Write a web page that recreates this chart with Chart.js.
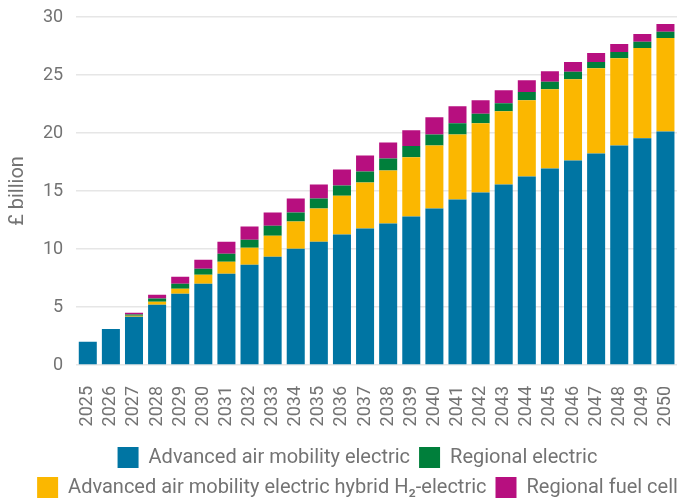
<!DOCTYPE html>
<html>
<head>
<meta charset="utf-8">
<script src="https://cdn.jsdelivr.net/npm/chart.js@4/dist/chart.umd.min.js"></script>
<style>
  body { margin: 0; background: #fff; }
</style>
</head>
<body>
<canvas id="grafico" width="689" height="502"></canvas>
<script>
const years = ["2025","2026","2027","2028","2029","2030","2031","2032","2033","2034","2035","2036","2037",
  "2038","2039","2040","2041","2042","2043","2044","2045","2046","2047","2048","2049","2050"];

const aamElectric = [2.0, 3.1, 4.15, 5.19, 6.14, 7.0, 7.87, 8.65, 9.34, 10.03, 10.63, 11.24, 11.76,
  12.19, 12.8, 13.49, 14.27, 14.87, 15.56, 16.25, 16.95, 17.64, 18.24, 18.93, 19.54, 20.14];
const aamHybrid = [0, 0, 0.1, 0.26, 0.43, 0.78, 1.03, 1.45, 1.81, 2.33, 2.86, 3.36, 3.97,
  4.58, 5.1, 5.44, 5.61, 5.96, 6.31, 6.57, 6.82, 7.0, 7.35, 7.52, 7.78, 8.04];
const regionalElectric = [0, 0, 0.1, 0.28, 0.43, 0.52, 0.7, 0.7, 0.85, 0.78, 0.86, 0.88, 0.96,
  1.04, 0.97, 0.95, 0.95, 0.84, 0.69, 0.72, 0.64, 0.63, 0.54, 0.54, 0.54, 0.55];
const regionalFuelCell = [0, 0, 0.15, 0.32, 0.6, 0.78, 1.03, 1.13, 1.14, 1.21, 1.21, 1.38, 1.38,
  1.38, 1.36, 1.47, 1.47, 1.15, 1.13, 1.01, 0.92, 0.84, 0.76, 0.68, 0.67, 0.66];

const yTicks = [0, 5, 10, 15, 20, 25, 30];

const textColor = "#737373";
const fontFamily = "Roboto, sans-serif";

// orden de la leyenda: fila 1 azul + verde, fila 2 amarillo + magenta
const legendOrder = [0, 2, 1, 3];

const datos = {
  labels: years,
  datasets: [
    { label: "Advanced air mobility electric", data: aamElectric, backgroundColor: "#0075a3" },
    { label: "Advanced air mobility electric hybrid H\u2082-electric", data: aamHybrid, backgroundColor: "#fbb700" },
    { label: "Regional electric", data: regionalElectric, backgroundColor: "#007f3b" },
    { label: "Regional fuel cell", data: regionalFuelCell, backgroundColor: "#b70f7f" }
  ]
};

// la leyenda del original esta centrada un poco a la derecha
const moverLeyenda = {
  id: "moverLeyenda",
  afterLayout: (chart) => {
    chart.legend.left += 16;
    chart.legend.right += 16;
  }
};

const configuracion = {
  type: "bar",
  data: datos,
  plugins: [moverLeyenda],
  options: {
    responsive: false,
    animation: false,
    layout: { padding: { top: 17, right: 12, left: 6, bottom: -6 } },
    datasets: { bar: { barPercentage: 0.78, categoryPercentage: 1 } },
    plugins: {
      tooltip: { enabled: false },
      legend: {
        position: "bottom",
        labels: {
          color: textColor,
          font: { family: fontFamily, size: 20 },
          boxWidth: 21,
          boxHeight: 21,
          padding: 9,
          sort: (a, b) => legendOrder.indexOf(a.datasetIndex) - legendOrder.indexOf(b.datasetIndex)
        }
      }
    },
    scales: {
      x: {
        stacked: true,
        grid: { display: false, drawTicks: false },
        border: { display: false },
        afterFit: (scale) => {
          scale.height = 73;
          scale.paddingLeft = 0;
          scale.paddingRight = 0;
        },
        ticks: {
          color: textColor,
          font: { family: fontFamily, size: 18 },
          minRotation: 90,
          maxRotation: 90,
          autoSkip: false,
          padding: 21
        }
      },
      y: {
        stacked: true,
        min: 0,
        max: 30,
        afterBuildTicks: (axis) => { axis.ticks = yTicks.map(v => ({ value: v })); },
        afterFit: (scale) => {
          scale.paddingTop = 0;
          scale.paddingBottom = 0;
        },
        grid: { color: "#e6e6e6", lineWidth: 1.5, drawTicks: false },
        border: { display: false },
        title: {
          display: true,
          text: "£ billion",
          color: textColor,
          font: { family: fontFamily, size: 20 },
          padding: 0
        },
        ticks: {
          color: textColor,
          font: { family: fontFamily, size: 18 },
          padding: 13
        }
      }
    }
  }
};

new Chart(document.getElementById("grafico"), configuracion);
</script>
</body>
</html>
